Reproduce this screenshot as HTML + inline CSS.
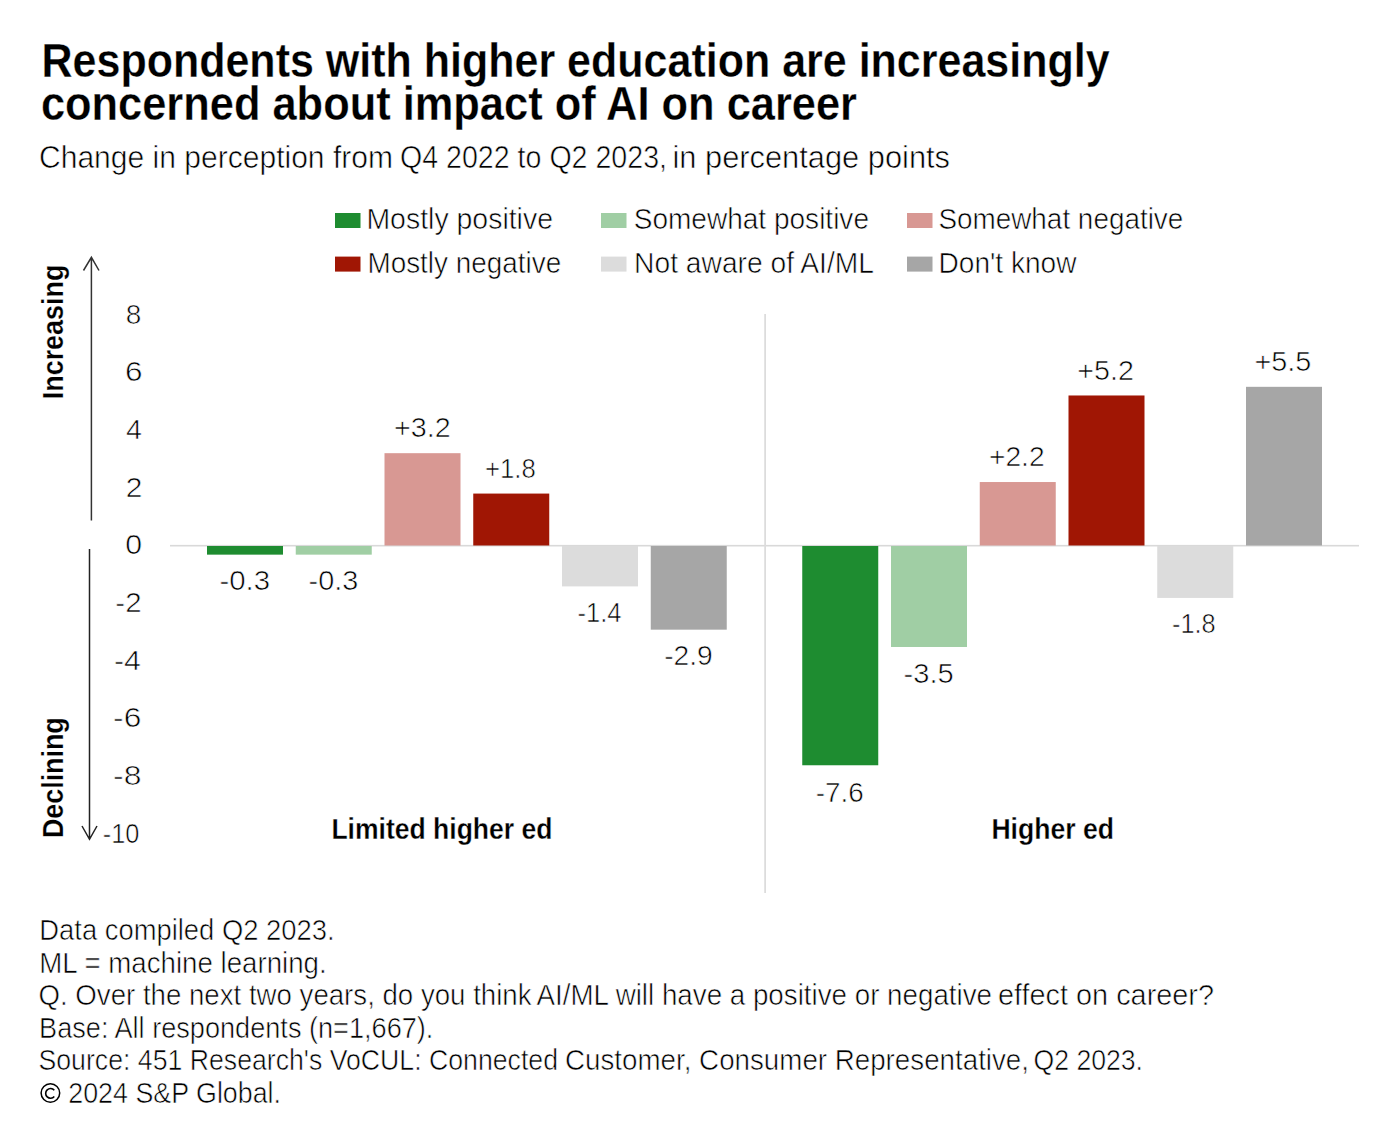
<!DOCTYPE html>
<html><head><meta charset="utf-8"><style>
html,body{margin:0;padding:0;background:#fff;width:1375px;height:1135px;overflow:hidden}
svg{display:block}
</style></head><body>
<svg width="1375" height="1135" viewBox="0 0 1375 1135">
<rect width="1375" height="1135" fill="#fff"/>
<text x="41.50" y="77.30" font-family="Liberation Sans" font-size="47.5" font-weight="bold" stroke="#fff" stroke-width="0.3" text-anchor="start" fill="#000" textLength="1068.10" lengthAdjust="spacingAndGlyphs">Respondents with higher education are increasingly</text>
<text x="40.90" y="119.50" font-family="Liberation Sans" font-size="47.5" font-weight="bold" stroke="#fff" stroke-width="0.3" text-anchor="start" fill="#000" textLength="816.10" lengthAdjust="spacingAndGlyphs">concerned about impact of AI on career</text>
<text x="39.00" y="168.20" font-family="Liberation Sans" font-size="31" stroke="#fff" stroke-width="0.6" text-anchor="start" fill="#000" textLength="354.00" lengthAdjust="spacingAndGlyphs">Change in perception from</text>
<text x="400.00" y="168.20" font-family="Liberation Sans" font-size="31" stroke="#fff" stroke-width="0.6" text-anchor="start" fill="#000" textLength="267.00" lengthAdjust="spacingAndGlyphs">Q4 2022 to Q2 2023,</text>
<text x="672.50" y="168.20" font-family="Liberation Sans" font-size="31" stroke="#fff" stroke-width="0.6" text-anchor="start" fill="#000" textLength="277.50" lengthAdjust="spacingAndGlyphs">in percentage points</text>
<text x="366.40" y="229.00" font-family="Liberation Sans" font-size="29" stroke="#fff" stroke-width="0.6" text-anchor="start" fill="#000" textLength="186.60" lengthAdjust="spacingAndGlyphs">Mostly positive</text>
<text x="633.70" y="229.00" font-family="Liberation Sans" font-size="29" stroke="#fff" stroke-width="0.6" text-anchor="start" fill="#000" textLength="235.30" lengthAdjust="spacingAndGlyphs">Somewhat positive</text>
<text x="938.40" y="229.00" font-family="Liberation Sans" font-size="29" stroke="#fff" stroke-width="0.6" text-anchor="start" fill="#000" textLength="244.90" lengthAdjust="spacingAndGlyphs">Somewhat negative</text>
<text x="367.40" y="273.00" font-family="Liberation Sans" font-size="29" stroke="#fff" stroke-width="0.6" text-anchor="start" fill="#000" textLength="193.90" lengthAdjust="spacingAndGlyphs">Mostly negative</text>
<text x="634.10" y="273.00" font-family="Liberation Sans" font-size="29" stroke="#fff" stroke-width="0.6" text-anchor="start" fill="#000" textLength="239.90" lengthAdjust="spacingAndGlyphs">Not aware of AI/ML</text>
<text x="938.50" y="273.00" font-family="Liberation Sans" font-size="29" stroke="#fff" stroke-width="0.6" text-anchor="start" fill="#000" textLength="138.00" lengthAdjust="spacingAndGlyphs">Don't know</text>
<text x="331.40" y="839.20" font-family="Liberation Sans" font-size="29.5" font-weight="bold" stroke="#fff" stroke-width="0.3" text-anchor="start" fill="#000" textLength="221.10" lengthAdjust="spacingAndGlyphs">Limited higher ed</text>
<text x="991.40" y="838.80" font-family="Liberation Sans" font-size="29.5" font-weight="bold" stroke="#fff" stroke-width="0.3" text-anchor="start" fill="#000" textLength="122.60" lengthAdjust="spacingAndGlyphs">Higher ed</text>
<text x="39.30" y="940.00" font-family="Liberation Sans" font-size="29" stroke="#fff" stroke-width="0.6" text-anchor="start" fill="#000" textLength="295.30" lengthAdjust="spacingAndGlyphs">Data compiled Q2 2023.</text>
<text x="39.30" y="972.60" font-family="Liberation Sans" font-size="29" stroke="#fff" stroke-width="0.6" text-anchor="start" fill="#000" textLength="287.40" lengthAdjust="spacingAndGlyphs">ML = machine learning.</text>
<text x="38.50" y="1005.00" font-family="Liberation Sans" font-size="29" stroke="#fff" stroke-width="0.6" text-anchor="start" fill="#000" textLength="493.00" lengthAdjust="spacingAndGlyphs">Q. Over the next two years, do you think</text>
<text x="536.50" y="1005.00" font-family="Liberation Sans" font-size="29" stroke="#fff" stroke-width="0.6" text-anchor="start" fill="#000" textLength="455.50" lengthAdjust="spacingAndGlyphs">AI/ML will have a positive or negative</text>
<text x="998.00" y="1005.00" font-family="Liberation Sans" font-size="29" stroke="#fff" stroke-width="0.6" text-anchor="start" fill="#000" textLength="216.00" lengthAdjust="spacingAndGlyphs">effect on career?</text>
<text x="39.10" y="1037.60" font-family="Liberation Sans" font-size="29" stroke="#fff" stroke-width="0.6" text-anchor="start" fill="#000" textLength="394.30" lengthAdjust="spacingAndGlyphs">Base: All respondents (n=1,667).</text>
<text x="38.50" y="1070.00" font-family="Liberation Sans" font-size="29" stroke="#fff" stroke-width="0.6" text-anchor="start" fill="#000" textLength="519.50" lengthAdjust="spacingAndGlyphs">Source: 451 Research's VoCUL: Connected</text>
<text x="565.00" y="1070.00" font-family="Liberation Sans" font-size="29" stroke="#fff" stroke-width="0.6" text-anchor="start" fill="#000" textLength="464.00" lengthAdjust="spacingAndGlyphs">Customer, Consumer Representative,</text>
<text x="1033.50" y="1070.00" font-family="Liberation Sans" font-size="29" stroke="#fff" stroke-width="0.6" text-anchor="start" fill="#000" textLength="109.50" lengthAdjust="spacingAndGlyphs">Q2 2023.</text>
<text x="68.30" y="1102.60" font-family="Liberation Sans" font-size="29" stroke="#fff" stroke-width="0.6" text-anchor="start" fill="#000" textLength="212.70" lengthAdjust="spacingAndGlyphs">2024 S&amp;P Global.</text>
<rect x="335" y="213" width="25.5" height="15" fill="#1e8c30"/>
<rect x="601" y="213" width="25.5" height="15" fill="#a0cea4"/>
<rect x="907" y="213" width="25.5" height="15" fill="#d89893"/>
<rect x="335" y="256.6" width="25.5" height="15" fill="#a01604"/>
<rect x="601" y="256.6" width="25.5" height="15" fill="#dcdcdc"/>
<rect x="907" y="256.6" width="25.5" height="15" fill="#a6a6a6"/>
<text x="125.74" y="323.50" font-family="Liberation Sans" font-size="27" stroke="#fff" stroke-width="0.6" text-anchor="start" fill="#000" textLength="15.58" lengthAdjust="spacingAndGlyphs">8</text>
<text x="125.10" y="381.20" font-family="Liberation Sans" font-size="27" stroke="#fff" stroke-width="0.6" text-anchor="start" fill="#000" textLength="17.54" lengthAdjust="spacingAndGlyphs">6</text>
<text x="126.00" y="438.90" font-family="Liberation Sans" font-size="27" stroke="#fff" stroke-width="0.6" text-anchor="start" fill="#000" textLength="15.94" lengthAdjust="spacingAndGlyphs">4</text>
<text x="125.86" y="496.60" font-family="Liberation Sans" font-size="27" stroke="#fff" stroke-width="0.6" text-anchor="start" fill="#000" textLength="16.66" lengthAdjust="spacingAndGlyphs">2</text>
<text x="125.24" y="554.30" font-family="Liberation Sans" font-size="27" stroke="#fff" stroke-width="0.6" text-anchor="start" fill="#000" textLength="16.84" lengthAdjust="spacingAndGlyphs">0</text>
<text x="115.36" y="612.00" font-family="Liberation Sans" font-size="27" stroke="#fff" stroke-width="0.6" text-anchor="start" fill="#000" textLength="26.22" lengthAdjust="spacingAndGlyphs">-2</text>
<text x="114.04" y="669.70" font-family="Liberation Sans" font-size="27" stroke="#fff" stroke-width="0.6" text-anchor="start" fill="#000" textLength="26.90" lengthAdjust="spacingAndGlyphs">-4</text>
<text x="113.10" y="727.40" font-family="Liberation Sans" font-size="27" stroke="#fff" stroke-width="0.6" text-anchor="start" fill="#000" textLength="28.22" lengthAdjust="spacingAndGlyphs">-6</text>
<text x="113.10" y="785.10" font-family="Liberation Sans" font-size="27" stroke="#fff" stroke-width="0.6" text-anchor="start" fill="#000" textLength="28.36" lengthAdjust="spacingAndGlyphs">-8</text>
<text x="102.80" y="842.80" font-family="Liberation Sans" font-size="27" stroke="#fff" stroke-width="0.6" text-anchor="start" fill="#000" textLength="36.64" lengthAdjust="spacingAndGlyphs">-10</text>
<rect x="170" y="544.9" width="1189" height="1.6" fill="#d9d9d9"/>
<rect x="764.25" y="314" width="1.75" height="579" fill="#dcdcdc"/>
<rect x="207.00" y="546.00" width="76" height="8.65" fill="#1e8c30"/>
<rect x="295.75" y="546.00" width="76" height="8.65" fill="#a0cea4"/>
<rect x="384.50" y="453.18" width="76" height="92.32" fill="#d89893"/>
<rect x="473.25" y="493.57" width="76" height="51.93" fill="#a01604"/>
<rect x="562.00" y="546.00" width="76" height="40.39" fill="#dcdcdc"/>
<rect x="650.75" y="546.00" width="76" height="83.67" fill="#a6a6a6"/>
<rect x="802.25" y="546.00" width="76" height="219.26" fill="#1e8c30"/>
<rect x="891.00" y="546.00" width="76" height="100.98" fill="#a0cea4"/>
<rect x="979.75" y="482.03" width="76" height="63.47" fill="#d89893"/>
<rect x="1068.50" y="395.48" width="76" height="150.02" fill="#a01604"/>
<rect x="1157.25" y="546.00" width="76" height="51.93" fill="#dcdcdc"/>
<rect x="1246.00" y="386.82" width="76" height="158.68" fill="#a6a6a6"/>
<text x="219.40" y="590.10" font-family="Liberation Sans" font-size="27" stroke="#fff" stroke-width="0.6" text-anchor="start" fill="#000" textLength="50.60" lengthAdjust="spacingAndGlyphs">-0.3</text>
<text x="308.60" y="590.10" font-family="Liberation Sans" font-size="27" stroke="#fff" stroke-width="0.6" text-anchor="start" fill="#000" textLength="49.70" lengthAdjust="spacingAndGlyphs">-0.3</text>
<text x="394.00" y="437.10" font-family="Liberation Sans" font-size="27" stroke="#fff" stroke-width="0.6" text-anchor="start" fill="#000" textLength="56.70" lengthAdjust="spacingAndGlyphs">+3.2</text>
<text x="485.00" y="477.90" font-family="Liberation Sans" font-size="27" stroke="#fff" stroke-width="0.6" text-anchor="start" fill="#000" textLength="50.80" lengthAdjust="spacingAndGlyphs">+1.8</text>
<text x="577.40" y="622.10" font-family="Liberation Sans" font-size="27" stroke="#fff" stroke-width="0.6" text-anchor="start" fill="#000" textLength="44.10" lengthAdjust="spacingAndGlyphs">-1.4</text>
<text x="664.20" y="665.30" font-family="Liberation Sans" font-size="27" stroke="#fff" stroke-width="0.6" text-anchor="start" fill="#000" textLength="48.60" lengthAdjust="spacingAndGlyphs">-2.9</text>
<text x="815.70" y="801.50" font-family="Liberation Sans" font-size="27" stroke="#fff" stroke-width="0.6" text-anchor="start" fill="#000" textLength="48.00" lengthAdjust="spacingAndGlyphs">-7.6</text>
<text x="903.60" y="683.40" font-family="Liberation Sans" font-size="27" stroke="#fff" stroke-width="0.6" text-anchor="start" fill="#000" textLength="50.20" lengthAdjust="spacingAndGlyphs">-3.5</text>
<text x="988.90" y="466.10" font-family="Liberation Sans" font-size="27" stroke="#fff" stroke-width="0.6" text-anchor="start" fill="#000" textLength="55.80" lengthAdjust="spacingAndGlyphs">+2.2</text>
<text x="1077.30" y="379.60" font-family="Liberation Sans" font-size="27" stroke="#fff" stroke-width="0.6" text-anchor="start" fill="#000" textLength="56.60" lengthAdjust="spacingAndGlyphs">+5.2</text>
<text x="1172.00" y="633.40" font-family="Liberation Sans" font-size="27" stroke="#fff" stroke-width="0.6" text-anchor="start" fill="#000" textLength="43.70" lengthAdjust="spacingAndGlyphs">-1.8</text>
<text x="1254.50" y="370.90" font-family="Liberation Sans" font-size="27" stroke="#fff" stroke-width="0.6" text-anchor="start" fill="#000" textLength="56.90" lengthAdjust="spacingAndGlyphs">+5.5</text>
<circle cx="50.4" cy="1093" r="9.3" stroke="#000" stroke-width="1.5" fill="none"/>
<path d="M54.3 1090.2 A4.9 4.9 0 1 0 54.3 1096.6" stroke="#000" stroke-width="1.6" fill="none"/>
<path d="M91.4 520.4 V257.8 M83.5 270.5 L91.4 257.3 L99 270.5" stroke="#333" stroke-width="1.5" fill="none"/>
<path d="M89.5 548.9 V838.8 M82 826 L89.5 839.3 L97 826" stroke="#222" stroke-width="1.5" fill="none"/>
<g transform="translate(63.4 399.3) rotate(-90)"><text x="0" y="0" font-family="Liberation Sans" font-size="29.5" font-weight="bold" stroke="#fff" stroke-width="0.2" text-anchor="start" fill="#000" textLength="134.80" lengthAdjust="spacingAndGlyphs">Increasing</text></g>
<g transform="translate(63.4 838) rotate(-90)"><text x="0" y="0" font-family="Liberation Sans" font-size="29.5" font-weight="bold" stroke="#fff" stroke-width="0.2" text-anchor="start" fill="#000" textLength="120.70" lengthAdjust="spacingAndGlyphs">Declining</text></g>
</svg>
</body></html>
